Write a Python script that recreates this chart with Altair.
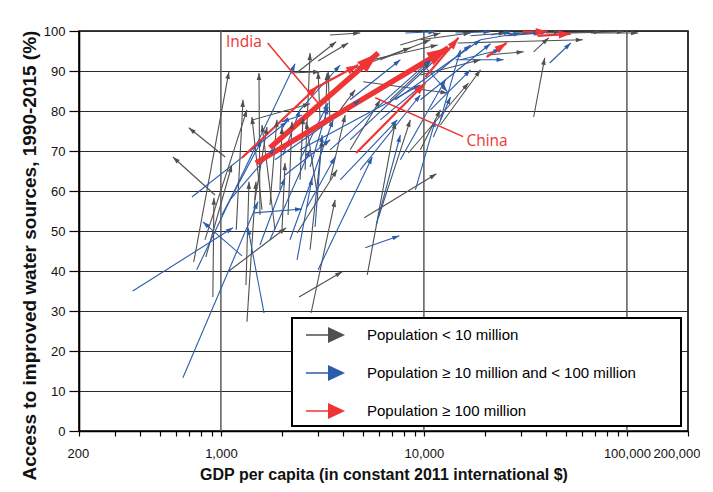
import math
import altair as alt
import pandas as pd

GROUPS = ["Population < 10 million",
          "Population \u2265 10 million and < 100 million",
          "Population \u2265 100 million"]
COLORS = ["#505050", "#2b5cab", "#ee3434"]

# Population < 10 million  (GDP per capita 1990 -> 2015, access % 1990 -> 2015)
small_gdp0 = [1050, 935, 913, 735, 1083, 1344, 1329, 2000, 2373, 2781, 2427, 5084, 5259, 5962,
              8383, 34740, 34740, 14640, 20600, 52910, 66420, 1558, 2400, 2598, 3261, 2190,
              3012, 3452, 3870, 5027, 843, 1594, 1472, 1745, 1955, 2142, 2454, 3012, 3081,
              3452, 1439, 7656, 9611, 16970, 23870, 29960, 39810, 6098, 4335, 9611, 4700,
              6833, 12060, 834, 1190, 1847, 2750, 3452, 4335, 9611]
small_acc0 = [68.5, 59, 33.5, 42.3, 39.8, 27.3, 36.5, 50.3, 49.5, 29.5, 33.5, 53.3, 39, 53.3,
              69.5, 78.5, 94.8, 97, 94, 99.5, 99.5, 54, 89.8, 65.3, 76.5, 89.5,
              92.5, 99, 80.3, 87.3, 43.5, 55.3, 57.8, 56.5, 60.3, 54, 62.8, 57.8, 77.8,
              76.5, 77.8, 96.5, 97.8, 98.8, 99.3, 99.3, 99.5, 92.8, 90.3, 89, 92,
              82.8, 76.5, 47.8, 50.3, 50.3, 45.3, 62.8, 70.3, 70.3]
small_gdp1 = [695, 580, 924, 1095, 2094, 1489, 1375, 2070, 3738, 3654, 3958, 11530, 7233, 8578,
              16590, 39370, 41180, 60690, 31000, 96700, 113600, 1540, 3696, 2750, 3336, 3081,
              4238, 4857, 4588, 13070, 1133, 1422, 1687, 1889, 2000, 2241, 2540, 2628, 3012,
              3374, 2750, 12060, 16970, 25260, 37610, 47220, 74420, 10770, 8578, 19010, 11700,
              10770, 19010, 1344, 1285, 1594, 3152, 4095, 6098, 12060]
small_acc1 = [75.8, 68.5, 58.3, 89.8, 50.8, 62.3, 62.3, 67, 65.3, 57.8, 39.8, 64.3, 77.3, 77.8,
              87, 93.3, 98.3, 97.8, 94.8, 99.8, 99.5, 89.5, 97.3, 94.5, 89.5, 89.8,
              97, 99.5, 85.3, 84.5, 66.5, 78.5, 76, 77.8, 76, 77.3, 78.5, 77.3, 89.8,
              89.8, 81.8, 99.5, 99.5, 99.5, 99.8, 99.8, 99.8, 97.8, 95.8, 92.8, 96.5,
              92.3, 90.3, 80.3, 82.8, 76.5, 72.8, 79, 82.8, 80.3]

# Population >= 10 million and < 100 million
mid_gdp0 = [368, 650, 1270, 1439, 1631, 2373, 2911, 3012, 5141, 5828, 11140, 10170, 41650, 760,
            2511, 14310, 720, 1011, 1745, 2190, 2658, 2750, 1847, 2454, 3452, 4335, 6098, 7233,
            9611, 12060, 10770, 15140, 19010, 25260, 4335, 4857, 7656, 9080, 2023, 2454, 2454,
            8104, 14310, 21300, 33570, 1108, 2070, 3870, 1558]
mid_acc0 = [35, 13.3, 43.8, 54.5, 29.5, 42.8, 51, 40.3, 45.8, 51.5, 73.5, 91, 92, 40.3,
            79, 92.8, 58.5, 54, 47.8, 47.8, 56, 66, 67.8, 70.3, 70.3, 72.8, 77.8, 82.8,
            82.8, 77.8, 80.3, 92.8, 97.8, 98.8, 82.8, 65.3, 67.8, 60.3, 69, 80.3, 67.8,
            99.5, 99.5, 99, 99.3, 57.8, 64, 62.8, 46.5]
mid_gdp1 = [1146, 1523, 815, 2511, 1359, 2813, 3152, 5570, 7570, 7656, 13520, 13070, 52910, 2320,
            2000, 24700, 2118, 1594, 2750, 3573, 3654, 3374, 4857, 9611, 10770, 12060, 16970, 19010,
            21300, 15140, 16970, 23870, 29960, 37610, 7656, 9611, 12770, 11400, 2454, 3870, 3374,
            11400, 21300, 26740, 40720, 1847, 3452, 7400, 2070]
mid_acc1 = [50.8, 57.3, 52.3, 55.5, 50.8, 63.3, 74, 68.5, 48.8, 74, 83.5, 84.8, 97, 91.8,
            77.3, 92.8, 77.3, 72.8, 70.3, 77.8, 68.5, 81, 82.8, 86.5, 92.8, 94, 96.5, 97.8,
            96.8, 95.3, 90.3, 95.3, 99.5, 99.5, 92.8, 84, 87.8, 77.8, 80.3, 91.5, 82,
            99.8, 99.8, 99.8, 99.8, 70.8, 72.8, 77.8, 63.3]

# Population >= 100 million
large_name = ["India", "China", "", "", "", "", "", "", ""]
large_gdp0 = [1745, 1489, 1270, 2944, 4640, 10170, 20370, 36330, 30650]
large_acc0 = [70.8, 67, 68.3, 85.8, 69.5, 88.5, 93.5, 98.8, 99.8]
large_gdp1 = [5962, 13220, 3012, 4746, 10170, 14810, 25550, 52910, 40720]
large_acc1 = [94.5, 95.8, 86.3, 91.5, 87, 98.3, 97, 99.3, 99.8]

# Annotations
ann_name = ["India", "China"]
ann_gdp = [1060, 16200]
ann_acc = [97.2, 72.6]
lead_gdp0 = [1700, 15600]
lead_acc0 = [97.0, 73.6]
lead_gdp1 = [3012, 5760]
lead_acc1 = [82.0, 83.3]

x_ticks = ([200, 300, 400, 500, 600, 700, 800, 900] +
           [1000 * k for k in range(1, 10)] + [10000 * k for k in range(1, 10)] +
           [100000, 200000])
x_grid = [1000, 10000, 100000]
y_ticks = list(range(0, 101, 10))

W, H = 609, 400
XDOM = [200, 200000]

rows = []
for g, gd0, ac0, gd1, ac1, names in [
    (GROUPS[0], small_gdp0, small_acc0, small_gdp1, small_acc1, None),
    (GROUPS[1], mid_gdp0, mid_acc0, mid_gdp1, mid_acc1, None),
    (GROUPS[2], large_gdp0, large_acc0, large_gdp1, large_acc1, large_name),
]:
    for i in range(len(gd0)):
        name = names[i] if names else ""
        dx = W * (math.log10(gd1[i]) - math.log10(gd0[i])) / (math.log10(XDOM[1]) - math.log10(XDOM[0]))
        dy = H * (ac1[i] - ac0[i]) / 100.0
        ang = math.degrees(math.atan2(dx, dy)) % 360
        weight = "highlight" if name else g
        rows.append(dict(group=g, name=name, weight=weight, gdp0=gd0[i], acc0=ac0[i],
                         gdp1=gd1[i], acc1=ac1[i], angle=ang))
df = pd.DataFrame(rows)

xscale = alt.Scale(type="log", domain=XDOM, nice=False)
yscale = alt.Scale(domain=[0, 100], nice=False)
cscale = alt.Scale(domain=GROUPS, range=COLORS)
WEIGHTS = GROUPS + ["highlight"]

FONT = "Liberation Sans"

x_axis = alt.Axis(values=x_ticks, grid=False, tickSize=5, labelPadding=11,
                  labelExpr="indexof([200,1000,10000,100000,200000], datum.value) >= 0 ? format(datum.value, ',') : ''",
                  labelOverlap=False, labelFlush=True, labelFlushOffset=12, titlePadding=6,
                  title="GDP per capita (in constant 2011 international $)")
y_axis = alt.Axis(values=y_ticks, grid=True, gridColor="#2a2a2a", gridWidth=1.2, tickSize=10,
                  labelPadding=4, titlePadding=4, labelOverlap=False,
                  titleAlign="left", titleY=449, titleFontSize=19,
                  title="Access to improved water sources, 1990-2015 (%)")

vgrid = alt.Chart(pd.DataFrame({"g": x_grid})).mark_rule(color="#5a5a5a", strokeWidth=1.5).encode(
    x=alt.X("g:Q", scale=xscale, axis=x_axis))

base = alt.Chart(df)

stems = base.mark_rule(strokeCap="butt").encode(
    x=alt.X("gdp0:Q", scale=xscale, axis=x_axis),
    x2="gdp1:Q",
    y=alt.Y("acc0:Q", scale=yscale, axis=y_axis),
    y2="acc1:Q",
    color=alt.Color("group:N", scale=cscale, legend=None),
    strokeWidth=alt.StrokeWidth("weight:N", scale=alt.Scale(type="ordinal", domain=WEIGHTS,
                                                            range=[1.1, 1.1, 2.2, 5.5]),
                                legend=None),
)

HEAD = "M0,0L0.62,1.9L-0.62,1.9Z"
LEG_ARROW = "M-0.3,-0.07L1.9,-0.07L1.9,-0.8L3.6,0L1.9,0.8L1.9,0.07L-0.3,0.07Z"

heads = base.mark_point(shape=HEAD, filled=True, opacity=1, strokeWidth=0).encode(
    x=alt.X("gdp1:Q", scale=xscale, axis=x_axis),
    y=alt.Y("acc1:Q", scale=yscale, axis=y_axis),
    angle=alt.Angle("angle:Q", scale=None),
    size=alt.Size("weight:N", scale=alt.Scale(type="ordinal", domain=WEIGHTS, range=[55, 55, 160, 520]),
                  legend=None),
    color=alt.Color("group:N", scale=cscale, legend=alt.Legend(
        title="MMM", titleOrient="right", titleOpacity=0, titleFontSize=15, titlePadding=0,
        titleFont=FONT,
        orient="none", legendX=213, legendY=287,
        symbolType=LEG_ARROW, symbolSize=400, symbolStrokeWidth=0, symbolOpacity=1,
        labelFont=FONT, labelFontSize=15, labelColor="black", labelOffset=48, labelLimit=700,
        rowPadding=20, padding=7, fillColor="white", strokeColor="black")),
)

ann_df = pd.DataFrame({"name": ann_name, "gdp": ann_gdp, "acc": ann_acc,
                       "g0": lead_gdp0, "a0": lead_acc0, "g1": lead_gdp1, "a1": lead_acc1})
leaders = alt.Chart(ann_df).mark_rule(color="#ee3434", strokeWidth=1.5).encode(
    x=alt.X("g0:Q", scale=xscale, axis=x_axis), x2="g1:Q",
    y=alt.Y("a0:Q", scale=yscale, axis=y_axis), y2="a1:Q")
labels = alt.Chart(ann_df).mark_text(align="left", baseline="middle", font="Open Sans",
                                     fontSize=15.5, color="#ee3434").encode(
    x=alt.X("gdp:Q", scale=xscale, axis=x_axis), y=alt.Y("acc:Q", scale=yscale, axis=y_axis),
    text="name:N")

chart = alt.layer(vgrid, stems, heads, leaders, labels).resolve_legend(
    color="independent", size="independent", strokeWidth="independent"
).properties(
    width=W, height=H,
    padding={"left": 12, "top": 17, "right": 0, "bottom": 4},
).configure_view(stroke="black", strokeWidth=1.6).configure_axis(
    domainColor="black", domainWidth=1.6, tickColor="black", tickWidth=1.2,
    labelFont=FONT, labelFontSize=13, labelColor="#111",
    titleFont=FONT, titleFontSize=16, titleFontWeight="bold", titleColor="#111",
).configure_legend(strokeWidth=2)

chart.save("out.html", embed_options={"renderer": "svg", "actions": False})
